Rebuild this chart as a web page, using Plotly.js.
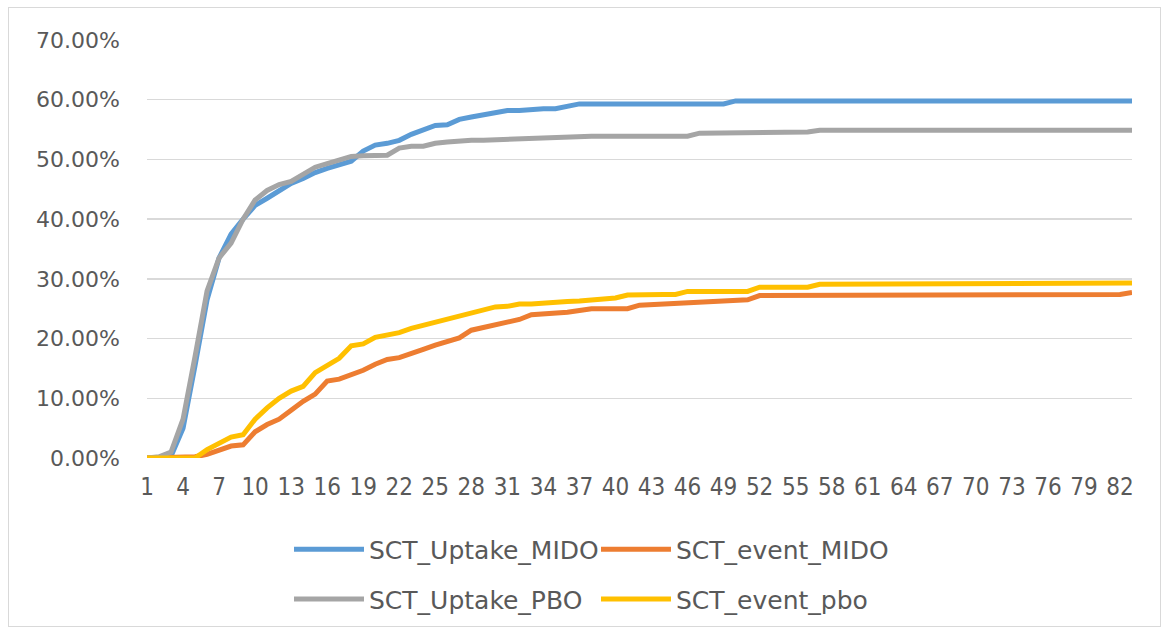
<!DOCTYPE html>
<html>
<head>
<meta charset="utf-8">
<script src="https://cdn.plot.ly/plotly-3.0.1.min.js"></script>
<style>
  html, body { margin: 0; padding: 0; background: #ffffff; }
  #wrap { position: relative; width: 1170px; height: 634px; }
  #chart { width: 1170px; height: 634px; }
  #frame { position: absolute; left: 8px; top: 7px; width: 1153px; height: 620px;
           border: 1.5px solid #D9D9D9; pointer-events: none; box-sizing: border-box; }
</style>
</head>
<body>
<div id="wrap">
  <div id="chart"></div>
  <div id="frame"></div>
</div>
<script>
const categories = [1,2,3,4,5,6,7,8,9,10,11,12,13,14,15,16,17,18,19,20,
  21,22,23,24,25,26,27,28,29,30,31,32,33,34,35,36,37,38,39,40,
  41,42,43,44,45,46,47,48,49,50,51,52,53,54,55,56,57,58,59,60,
  61,62,63,64,65,66,67,68,69,70,71,72,73,74,75,76,77,78,79,80,81,82,83];

const tickLabels = [1,4,7,10,13,16,19,22,25,28,31,34,37,40,43,46,49,52,55,58,61,64,67,70,73,76,79,82];

const seriesNames = ["SCT_Uptake_MIDO", "SCT_event_MIDO", "SCT_Uptake_PBO", "SCT_event_pbo"];

const uptakeMIDO = [0,0,0.3,5,15.5,26.5,33.5,37.5,40,42.3,
  43.5,44.8,46,46.8,47.8,48.5,49.2,49.7,51.4,52.4,
  52.7,53.2,54.2,55,55.7,55.8,56.7,57.1,57.5,57.9,
  58.2,58.2,58.4,58.5,58.5,59,59.3,59.3,59.3,59.3,
  59.3,59.3,59.3,59.3,59.3,59.3,59.3,59.3,59.3,59.8,
  59.8,59.8,59.8,59.8,59.8,59.8,59.8,59.8,59.8,59.8,
  59.8,59.8,59.8,59.8,59.8,59.8,59.8,59.8,59.8,59.8,
  59.8,59.8,59.8,59.8,59.8,59.8,59.8,59.8,59.8,59.8,
  59.8,59.8,59.8];

const eventMIDO = [0,0,0,0,0.2,0.6,1.2,2,2.2,4.4,
  5.6,6.5,8,9.5,10.7,12.9,13.2,13.9,14.7,15.7,
  16.5,16.8,17.6,18.2,18.9,19.6,20.1,21.4,21.9,22.2,
  22.8,23.2,24,24.1,24.1,24.4,24.7,25,25,25,
  25,25.6,25.7,25.7,25.7,25.8,25.9,26,26.1,26.2,
  26.5,27.2,27.2,27.2,27.2,27.2,27.2,27.2,27.4,27.4,
  27.4,27.4,27.4,27.4,27.4,27.4,27.4,27.4,27.4,27.4,
  27.4,27.4,27.4,27.4,27.4,27.4,27.4,27.4,27.4,27.4,
  27.4,27.4,27.7];

const uptakePBO = [0,0.2,1,6.5,17,28,33.5,36,40,43.2,
  44.8,45.8,46.3,47.6,48.7,49.3,50,50.5,50.6,50.7,
  50.7,51.9,52.2,52.2,52.7,52.9,53.1,53.2,53.2,53.3,
  53.3,53.5,53.6,53.6,53.6,53.8,53.9,53.9,53.9,53.9,
  53.9,53.9,53.9,53.9,53.9,53.9,54.4,54.4,54.4,54.4,
  54.6,54.6,54.6,54.6,54.6,54.6,54.9,54.9,54.9,54.9,
  54.9,54.9,54.9,54.9,54.9,54.9,54.9,54.9,54.9,54.9,
  54.9,54.9,54.9,54.9,54.9,54.9,54.9,54.9,54.9,54.9,
  54.9,54.9,54.9];

const eventPBO = [0,0,0,0,0,1.4,2.5,3.5,3.9,6.5,
  8.4,10,11.2,12,14.3,15.5,16.7,18.8,19.1,20.2,
  20.6,21,21.7,22.2,22.8,23.3,23.9,24.4,24.7,25.3,
  25.4,25.8,25.8,26,26.1,26.2,26.3,26.5,26.6,26.8,
  27.3,27.4,27.4,27.4,27.4,27.9,27.9,27.9,27.9,27.9,
  27.9,28.6,28.6,28.6,28.6,28.6,29.1,29.1,29.1,29.1,
  29.1,29.1,29.1,29.1,29.1,29.1,29.3,29.3,29.3,29.3,
  29.3,29.3,29.3,29.3,29.3,29.3,29.3,29.3,29.3,29.3,
  29.3,29.3,29.3];

const yTicks = [0,10,20,30,40,50,60,70];
const yTickText = ["0.00%","10.00%","20.00%","30.00%","40.00%","50.00%","60.00%","70.00%"];

const colors = ["#5B9BD5", "#ED7D31", "#A5A5A5", "#FFC000"];
const allSeries = [uptakeMIDO, eventMIDO, uptakePBO, eventPBO];
const legendIds = ["legend", "legend", "legend2", "legend2"];

const traces = allSeries.map((vals, k) => ({
  type: "scatter",
  mode: "lines",
  x: categories,
  y: vals,
  name: seriesNames[k],
  legend: legendIds[k],
  line: { color: colors[k], width: 5, shape: "linear" },
  hoverinfo: "x+y+name"
}));

const legendFont = { family: "DejaVu Sans, sans-serif", size: 25, color: "#595959" };

const layout = {
  width: 1170,
  height: 634,
  margin: { l: 147, r: 38, t: 40, b: 174 },
  paper_bgcolor: "rgba(0,0,0,0)",
  plot_bgcolor: "#ffffff",
  showlegend: true,
  xaxis: {
    range: [1, 83],
    tickmode: "array",
    tickvals: tickLabels,
    ticktext: tickLabels.map(String),
    showgrid: false,
    zeroline: false,
    showline: false,
    ticks: "",
    ticklabelstandoff: 12,
    tickfont: { family: "Liberation Sans Narrow, DejaVu Sans Condensed, sans-serif", size: 24, color: "#595959" },
    fixedrange: true
  },
  yaxis: {
    range: [0, 70],
    tickmode: "array",
    tickvals: yTicks,
    ticktext: yTickText,
    showgrid: true,
    gridcolor: "#D9D9D9",
    gridwidth: 1.5,
    zeroline: false,
    showline: false,
    ticks: "",
    ticklabelstandoff: 26,
    tickfont: { family: "DejaVu Sans, sans-serif", size: 22, color: "#595959" },
    fixedrange: true
  },
  legend: {
    orientation: "h",
    x: (289 - 147) / 985,
    xanchor: "left",
    y: (460 - 552) / 420,
    yanchor: "middle",
    entrywidth: 222,
    entrywidthmode: "pixels",
    itemwidth: 70,
    font: legendFont,
    bgcolor: "rgba(0,0,0,0)"
  },
  legend2: {
    orientation: "h",
    x: (289 - 147) / 985,
    xanchor: "left",
    y: (460 - 602) / 420,
    yanchor: "middle",
    entrywidth: 222,
    entrywidthmode: "pixels",
    itemwidth: 70,
    font: legendFont,
    bgcolor: "rgba(0,0,0,0)"
  }
};

Plotly.newPlot("chart", traces, layout, { displayModeBar: false, staticPlot: true });
</script>
</body>
</html>
